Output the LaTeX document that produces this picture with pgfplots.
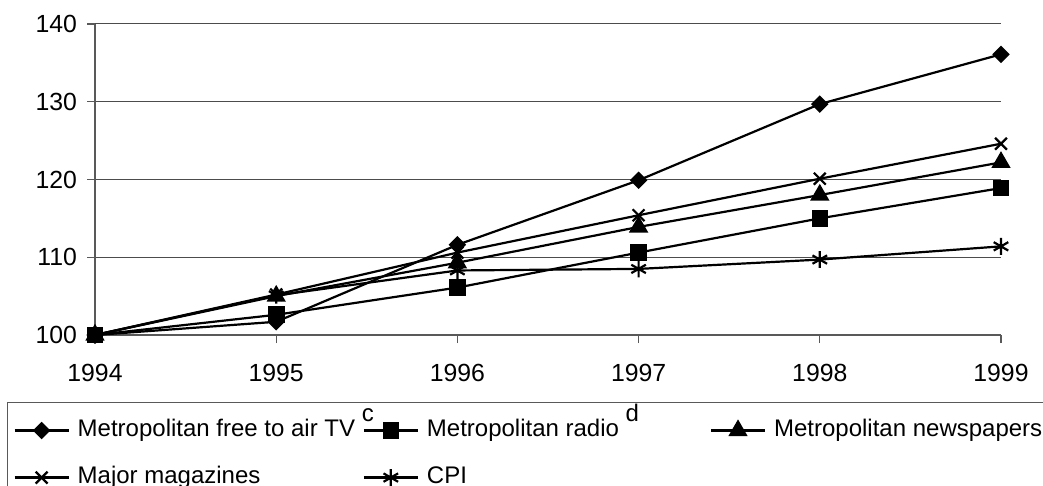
\documentclass[border=0pt]{standalone}
\usepackage{pgfplots}
\pgfplotsset{compat=1.18}
\usepackage{fontspec}
\setmainfont{Liberation Sans}
\usetikzlibrary{plotmarks}
\newcommand{\tl}[1]{{\fontsize{12.4}{15}\selectfont #1}}

\pgfplotstableread{
year tv radio news mag cpi
1994 100 100 100 100 100
1995 101.7 102.6 105.0 105.2 105.1
1996 111.6 106.1 109.3 110.6 108.3
1997 119.9 110.6 113.9 115.4 108.5
1998 129.7 115.0 118.0 120.1 109.7
1999 136.1 118.9 122.2 124.6 111.4
}\datatable

\begin{document}
\begin{tikzpicture}
\useasboundingbox (-47.5pt,-75.5pt) rectangle (474pt,167.5pt);
\begin{axis}[
  at={(0pt,0pt)}, anchor=south west,
  scale only axis, width=453pt, height=155.5pt,
  xmin=1994, xmax=1999, ymin=100, ymax=140,
  xtick={1994,1995,1996,1997,1998,1999},
  xticklabels={\tl{1994},\tl{1995},\tl{1996},\tl{1997},\tl{1998},\tl{1999}},
  ytick={100,110,120,130,140},
  yticklabels={\tl{100},\tl{110},\tl{120},\tl{130},\tl{140}},
  axis x line*=bottom, axis y line*=left,
  axis line style={-, black!65, line width=0.6pt},
  ymajorgrids, grid style={black!70, line width=0.5pt},
  tick align=outside, major tick length=4pt,
  tick style={black!65, line width=0.6pt},
  xticklabel style={yshift=-7pt},
  yticklabel style={xshift=-1.5pt},
  clip=false,
  legend columns=3,
  legend style={at={(-0.0971,-0.2154)}, anchor=north west,
    draw=black!65, line width=0.5pt, inner xsep=3pt, inner ysep=8.5pt,
    font=\fontsize{12}{14}\selectfont,
    nodes={inner sep=0pt, anchor=west, text height=8.6pt, text depth=2.5pt},
    /tikz/row sep=12.4pt, /tikz/column sep=0pt},
  legend image code/.code={%
    \draw[mark repeat=2,mark phase=2,#1] plot coordinates {(0pt,0pt) (13.5pt,0pt) (27pt,0pt)};},
]
\addplot[black, line width=1.1pt, mark=diamond*, mark size=3.6pt, mark options={solid, fill=black, xscale=1.33}] table[x=year,y=tv] {\datatable};
\addlegendentry{\makebox[146.5pt][l]{\hspace{4pt}Metropolitan free to air TV \raisebox{7.5pt}{c}}}
\addplot[black, line width=1.1pt, mark=square*, mark size=3.6pt, mark options={solid, fill=black}] table[x=year,y=radio] {\datatable};
\addlegendentry{\makebox[145.5pt][l]{\hspace{4pt}Metropolitan radio \raisebox{7.5pt}{d}}}
\addplot[black, line width=1.1pt, mark=triangle*, mark size=4.5pt, mark options={solid, fill=black}] table[x=year,y=news] {\datatable};
\addlegendentry{\makebox[146.5pt][l]{\hspace{4pt}Metropolitan newspapers}}
\addplot[black, line width=1.1pt, mark=x, mark size=4.2pt, mark options={solid}] table[x=year,y=mag] {\datatable};
\addlegendentry{\makebox[146.5pt][l]{\hspace{4pt}Major magazines}}
\addplot[black, line width=1.1pt, mark=asterisk, mark size=4.2pt, mark options={solid}] table[x=year,y=cpi] {\datatable};
\addlegendentry{\makebox[145.5pt][l]{\hspace{4pt}CPI}}
\end{axis}
\end{tikzpicture}
\end{document}
